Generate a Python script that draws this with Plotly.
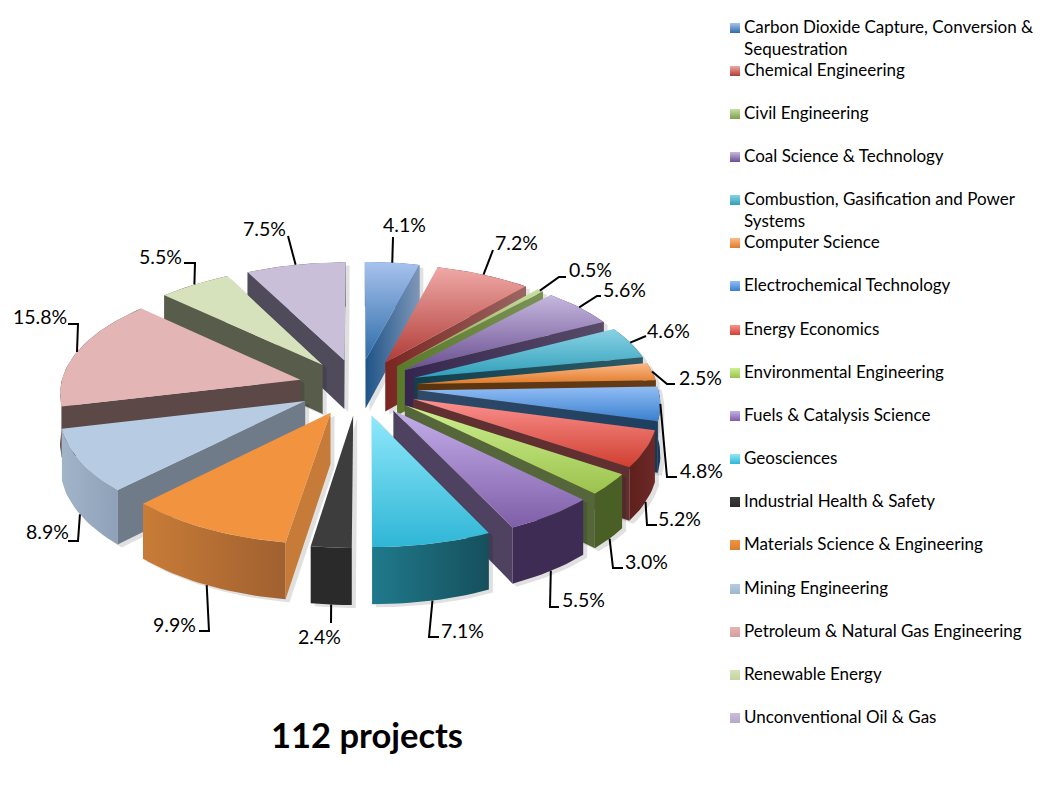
import math
import plotly.graph_objects as go

# ---------- data ----------
categories = ["Carbon Dioxide Capture, Conversion &<br>Sequestration", "Chemical Engineering", "Civil Engineering",
              "Coal Science & Technology", "Combustion, Gasification and Power<br>Systems", "Computer Science",
              "Electrochemical Technology", "Energy Economics", "Environmental Engineering",
              "Fuels & Catalysis Science", "Geosciences", "Industrial Health & Safety",
              "Materials Science & Engineering", "Mining Engineering", "Petroleum & Natural Gas Engineering",
              "Renewable Energy", "Unconventional Oil & Gas"]
shares = [4.1, 7.2, 0.5, 5.6, 4.6, 2.5, 4.8, 5.2, 3.0, 5.5, 7.1, 2.4, 9.9, 8.9, 15.8, 5.5, 7.5]
title_text = "112 projects"

# ---------- styles ----------
top_light = ["#a8c2ee", "#efa9a6", "#c8dfa0", "#c6b8de", "#8ad2e6", "#fdb98a", "#92bdf5", "#fb9290", "#cdf08f",
             "#c4aeea", "#8fe8fb", "#3d3d3d", "#f29340", "#b7cce2", "#e3b5b4", "#d6e2bb", "#c9bfd8"]
top_dark = ["#2d6ca8", "#b03c38", "#7f9f4a", "#6a4f91", "#2e9fb8", "#e07b28", "#3a80cf", "#d03f30", "#9cc24d",
            "#7f5ea8", "#2fb6d6", "#3d3d3d", "#f29340", "#b7cce2", "#e3b5b4", "#d6e2bb", "#c9bfd8"]
side_apex = ["#1f5488", "#7a2520", "#5a7a2a", "#36264f", "#123f4e", "#5a330f", "#2f4a68", "#5f302f", "#55673a",
             "#4e4260", "#1a6a7d", "#3f3f3f", "#c67c38", "#6f7b89", "#5c4846", "#585c4b", "#504b5b"]
side_far = ["#7f97b8", "#9a6662", "#7a9155", "#574b68", "#2c5a66", "#653c17", "#1f3f60", "#5f302f", "#55673a",
            "#4e4260", "#1a6a7d", "#3f3f3f", "#c67c38", "#6f7b89", "#5c4846", "#585c4b", "#504b5b"]
outer_a = ["#2c5a8c", "#7a2520", "#4a5f25", "#3e2c55", "#2c5a66", "#653c17", "#1a3e62", "#5f1f1a", "#4a5f25",
           "#3e2c55", "#1f7a8c", "#2a2a2a", "#c87c37", "#a2b4ca", "#5c4846", "#585c4b", "#504b5b"]
outer_b = ["#2c5a8c", "#7a2520", "#4a5f25", "#3e2c55", "#2c5a66", "#653c17", "#1a3e62", "#6b2a28", "#4a5f25",
           "#3e2c55", "#164f5c", "#2a2a2a", "#a06030", "#8ea1b8", "#5c4846", "#585c4b", "#504b5b"]
swatch_dark = ["#2d6ca8", "#b03c38", "#7f9f4a", "#6a4f91", "#2e9fb8", "#e07b28", "#3a80cf", "#d03f30", "#9cc24d",
               "#7f5ea8", "#2fb6d6", "#2a2a2a", "#d77f32", "#9fb6d1", "#d69c9a", "#c4d49f", "#b5a8c9"]

# ---------- projection ----------
CX, CY = 358, 387
AX, AY = 240, 112.7
PERSP = 0.1
EXPLODE = 0.25
THICK = 50


def proj(X, Y, low=False):
    s = 1 / (1 - PERSP * Y)
    return CX + AX * X * s, CY + AY * Y * s + (THICK * s if low else 0)


def poly(points):
    xs = [p[0] for p in points] + [points[0][0]]
    ys = [p[1] for p in points] + [points[0][1]]
    return xs, ys


def hull(points):
    pts = sorted(set(points))
    def half(seq):
        out = []
        for p in seq:
            while len(out) > 1 and (out[-1][0]-out[-2][0])*(p[1]-out[-2][1]) - (out[-1][1]-out[-2][1])*(p[0]-out[-2][0]) <= 0:
                out.pop()
            out.append(p)
        return out[:-1]
    return half(pts) + half(pts[::-1])


total = sum(shares)
bounds = [0]
for v in shares:
    bounds.append(bounds[-1] + v / total * 2 * math.pi)
mids = [(bounds[i] + bounds[i + 1]) / 2 for i in range(len(shares))]

fig = go.Figure()


def add_poly(points, name, color=None, a=None, b=None, kind="horizontal"):
    xs, ys = poly(points)
    kw = dict(fillcolor=color) if color else dict(
        fillgradient=dict(type=kind, colorscale=[[0, a], [1, b]]))
    fig.add_trace(go.Scatter(x=xs, y=ys, mode="lines", fill="toself", line=dict(width=0),
                             showlegend=False, hoverinfo="text", text=name, name=name, **kw))


for i in sorted(range(len(shares)), key=lambda k: -math.cos(mids[k])):
    t0, t1, m = bounds[i], bounds[i + 1], mids[i]
    ox, oy = EXPLODE * math.sin(m), -EXPLODE * math.cos(m)
    n = max(3, int((t1 - t0) / 0.03))
    arc = [(ox + math.sin(t0 + (t1 - t0) * j / n), oy - math.cos(t0 + (t1 - t0) * j / n)) for j in range(n + 1)]
    top = [proj(ox, oy)] + [proj(*p) for p in arc]
    name = categories[i].replace("<br>", " ")

    # soft shadow
    everything = top + [proj(ox, oy, True)] + [proj(*p, True) for p in arc]
    add_poly([(x + 4, y + 3) for x, y in hull(everything)], name, color="rgba(0,0,0,0.12)")
    # outer wall
    add_poly([proj(*p) for p in arc] + [proj(*p, True) for p in arc[::-1]], name, a=outer_a[i], b=outer_b[i])
    # radial walls, only those facing the camera
    for th, sign, p in ((t0, -1, arc[0]), (t1, 1, arc[-1])):
        nx, ny = sign * math.cos(th), sign * math.sin(th)
        if nx * (0 - ox) + ny * (1 / PERSP - oy) > 0:
            add_poly([proj(ox, oy), proj(*p), proj(*p, True), proj(ox, oy, True)], name,
                     a=side_apex[i], b=side_far[i])
    # top face
    add_poly(top, name, a=top_dark[i], b=top_light[i], kind="vertical")

# ---------- leader lines and labels (layout) ----------
label_pos = [(404, 225), (516, 243), (590, 270), (624, 290), (668, 331), (700, 378), (701, 471), (679, 519),
             (646, 562), (583, 600), (462, 631), (319, 637), (174, 625), (47, 532), (40, 317), (160, 257), (264, 229)]
leader_knees = [[(393, 237)], [(493, 250)], [(559, 277), (566, 277)], [(597, 296), (601, 296)],
                [(645, 336), (646, 336)], [(667, 384), (675, 384)], [(667, 477), (677, 477)],
                [(647, 525), (657, 525)], [(613, 568), (623, 568)], [(550, 607), (559, 607)],
                [(429, 637), (439, 637)], [(331, 623)], [(209, 631), (199, 631)], [(78, 541), (68, 541)],
                [(78, 324), (68, 324)], [(195, 263), (184, 263)], [(288, 236)]]

for i, m in enumerate(mids):
    ox, oy = (1 + EXPLODE) * math.sin(m), -(1 + EXPLODE) * math.cos(m)
    start = proj(ox, oy, low=oy > 0.3)
    pts = [start] + leader_knees[i]
    fig.add_trace(go.Scatter(x=[p[0] for p in pts], y=[p[1] for p in pts], mode="lines",
                             line=dict(color="black", width=2), showlegend=False, hoverinfo="skip"))

annotations = []
for i, v in enumerate(shares):
    annotations.append(dict(x=label_pos[i][0], y=label_pos[i][1] - 1, text=f"{v:.1f}%", showarrow=False,
                            font=dict(family="Lato", size=19.5, color="black"), xanchor="center", yanchor="middle"))

# ---------- legend ----------
legend_rows = [27, 70, 113, 156, 199, 242, 285, 329, 372, 415, 458, 501, 544, 588, 631, 674, 717]
for i, name in enumerate(categories):
    fig.add_trace(go.Scatter(x=[735], y=[legend_rows[i] + 1], mode="markers", showlegend=False, hoverinfo="text",
                             text=name.replace("<br>", " "),
                             marker=dict(symbol="square", size=10, color=top_light[i], line=dict(width=0),
                                         gradient=dict(type="vertical", color=swatch_dark[i]))))
    annotations.append(dict(x=742, y=legend_rows[i] - 13, text=name, showarrow=False, align="left", xanchor="left",
                            yanchor="top", font=dict(family="Lato", size=17, color="black")))

annotations.append(dict(x=367, y=734, text=f"<b>{title_text}</b>", showarrow=False,
                        font=dict(family="Lato", size=34.5, color="black"), xanchor="center", yanchor="middle"))

fig.update_layout(width=1045, height=785, margin=dict(l=0, r=0, t=0, b=0), autosize=False,
                  paper_bgcolor="white", plot_bgcolor="white", showlegend=False, annotations=annotations,
                  xaxis=dict(range=[0, 1045], visible=False, fixedrange=True),
                  yaxis=dict(range=[785, 0], visible=False, fixedrange=True))

fig.write_html("out.html", post_script="document.body.style.margin='0';", config={"displayModeBar": False})
